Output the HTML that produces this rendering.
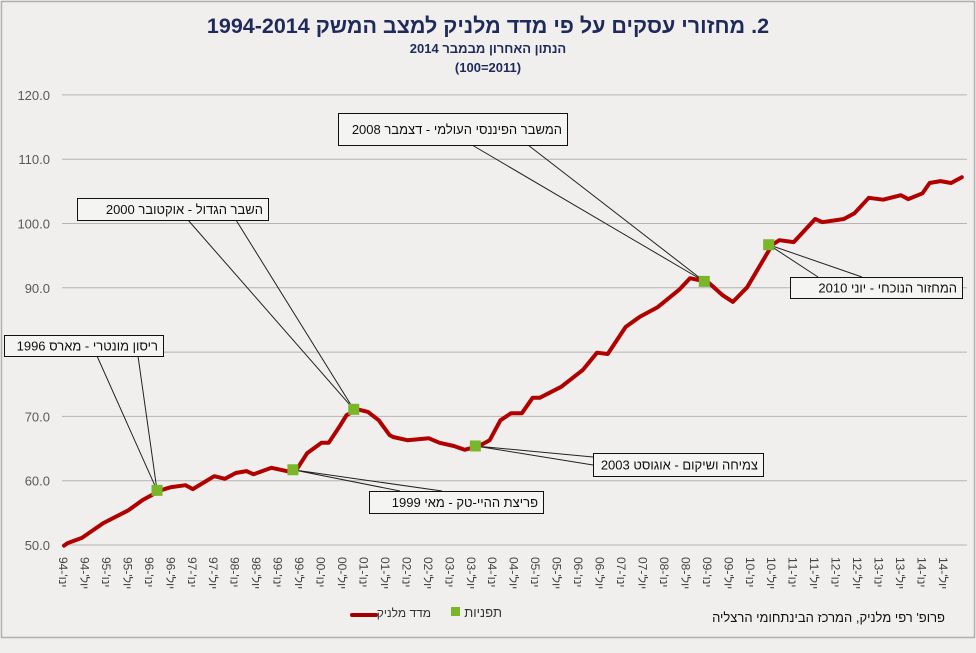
<!DOCTYPE html>
<html><head><meta charset="utf-8">
<style>
body{margin:0;background:#f0efed;}
svg{display:block;font-family:"Liberation Sans","Noto Sans CJK SC",sans-serif;}
</style></head>
<body>
<svg id="c" width="976" height="653" xmlns="http://www.w3.org/2000/svg">
<rect x="0" y="0" width="976" height="653" fill="#f0efed"/>
<rect x="1.5" y="1.5" width="973" height="636" fill="#f0efed" stroke="#b0b0b0" stroke-width="1.5"/>
<text x="488" y="33" text-anchor="middle" font-size="21.5" font-weight="bold" fill="#1f2a5a" direction="rtl">2. מחזורי עסקים על פי מדד מלניק למצב המשק 1994-2014</text>
<text x="488" y="53" text-anchor="middle" font-size="13" font-weight="bold" fill="#1f2a5a" direction="rtl">הנתון האחרון מבמבר 2014</text>
<text x="488" y="72" text-anchor="middle" font-size="13" font-weight="bold" fill="#1f2a5a">(100=2011)</text>
<g id="grid"></g><g id="yl"></g><g id="xl"></g><g id="ann"></g><g id="series"></g><g id="marks"></g>
<g>
<rect x="451" y="607" width="9" height="9" fill="#7ab62a"/>
<text x="502" y="617" text-anchor="start" font-size="13" fill="#333" direction="rtl">תפניות</text>
<line x1="352" y1="615" x2="376" y2="615" stroke="#a00000" stroke-width="4" stroke-linecap="round"/>
<text x="431" y="617" text-anchor="start" font-size="12" fill="#333" direction="rtl">מדד מלניק</text>
</g>
<text x="945" y="622" text-anchor="start" font-size="13" fill="#111" direction="rtl">פרופ' רפי מלניק, המרכז הבינתחומי הרצליה</text>
</svg>
<script>
const months=[0,1,5,11,18,22,27,30,34,36,42,45,48,51,53,58,63,65,68,72,74,77,79,82,85,88,91,92,96,102,105,109,112,116,119,122,125,128,131,133,139,145,149,152,157,161,166,172,175,180,184,187,191,196,198,200,204,210,212,218,221,225,229,234,236,240,242,245,248,251];
const values=[49.9,50.3,51.1,53.4,55.4,57,58.5,59,59.3,58.7,60.7,60.3,61.2,61.5,61,62,61.4,61.7,64.3,65.9,65.9,68.4,70.2,71.1,70.7,69.4,67.1,66.8,66.3,66.6,65.9,65.4,64.8,65.4,66.3,69.4,70.5,70.5,72.9,72.9,74.6,77.2,79.9,79.7,83.9,85.5,87,89.7,91.5,90.9,88.9,87.8,90.1,94.8,96.7,97.4,97.1,100.7,100.2,100.7,101.6,104,103.7,104.4,103.8,104.7,106.3,106.6,106.3,107.2];
const turnMonths=[26,64,81,115,179,197];
const turnValues=[58.5,61.7,71.1,65.4,91.0,96.7];
const turnLabels=["ריסון מונטרי - מארס 1996","פריצת ההיי-טק - מאי 1999","השבר הגדול - אוקטובר 2000","צמיחה ושיקום - אוגוסט 2003","המשבר הפיננסי העולמי - דצמבר 2008","המחזור הנוכחי - יוני 2010"];
const yTicks=[50,60,70,80,90,100,110,120];
const yTickLabels=["50.0","60.0","70.0","80.0","90.0","100.0","110.0","120.0"];
const xTickMonths=[];for(let i=0;i<=41;i++)xTickMonths.push(i*6);
const xTickLabels=[];for(let y=94;y<=114;y++){const yy=String(y%100).padStart(2,'0');xTickLabels.push("ינו'-"+yy);xTickLabels.push("יול'-"+yy);}

const NS="http://www.w3.org/2000/svg";
const X=m=>64+m*3.577;
const Y=v=>545-(v-50)*6.43;
function mk(tag,attrs,parent){const e=document.createElementNS(NS,tag);for(const k in attrs)e.setAttribute(k,attrs[k]);parent.appendChild(e);return e;}
const grid=document.getElementById('grid'),yl=document.getElementById('yl'),xl=document.getElementById('xl');
yTicks.forEach((t,i)=>{
 const l=mk('line',{x1:62,x2:967,y1:Y(t),y2:Y(t),stroke:'#b4b4b4','stroke-width':1},grid);
 
 
 const tx=mk('text',{x:50,y:Y(t)+5,'text-anchor':'end','font-size':13,fill:'#595959'},yl);
 tx.textContent=yTickLabels[i];
 
 
});
xTickMonths.forEach((m,i)=>{
 const tx=mk('text',{transform:`translate(${63+m*3.577-4},557) rotate(90)`,'font-size':12,fill:'#444','text-anchor':'end',direction:'rtl'},xl);
 tx.textContent=xTickLabels[i];
 
 
});
const boxes=[[4,335,159,21,97,138],[369,491,174,22,400,442],[77,198,191,22,188,236],[593,453,170,23,593,600],[338,113,229,32,472,528],[790,277,172,21,818,862]];
const ann=document.getElementById('ann');
boxes.forEach((b,i)=>{
 const mx=X(turnMonths[i]),my=Y(turnValues[i]);
 const by=(my<b[1])?b[1]:b[1]+b[3];
 let p1,p2;
 if(i===3){p1=[b[0],b[1]+4];p2=[b[0],b[1]+12];}
 else{p1=[b[4],by];p2=[b[5],by];}
 const pl=mk('polyline',{points:`${p1[0]},${p1[1]} ${mx},${my} ${p2[0]},${p2[1]}`,fill:'none',stroke:'#222','stroke-width':1},ann);
 
 
 const r=mk('rect',{x:b[0]+.5,y:b[1]+.5,width:b[2],height:b[3],fill:'#f4f4f2',stroke:'#111','stroke-width':1},ann);
 
 
 const t=mk('text',{x:b[0]+b[2]-5,y:b[1]+b[3]/2+5,'text-anchor':'start','font-size':13,fill:'#111',direction:'rtl'},ann);
 t.textContent=turnLabels[i];
 
 
});
const pts=months.map((m,i)=>X(m).toFixed(1)+','+Y(values[i]).toFixed(1)).join(' ');
const line=mk('polyline',{points:pts,fill:'none',stroke:'#b00000','stroke-width':4,'stroke-linejoin':'round','stroke-linecap':'round'},document.getElementById('series'));


turnMonths.forEach((m,i)=>{
 const r=mk('rect',{x:X(m)-5.5,y:Y(turnValues[i])-5.5,width:11,height:11,fill:'#7ab62a'},document.getElementById('marks'));
 
 
});
</script>
</body></html>
